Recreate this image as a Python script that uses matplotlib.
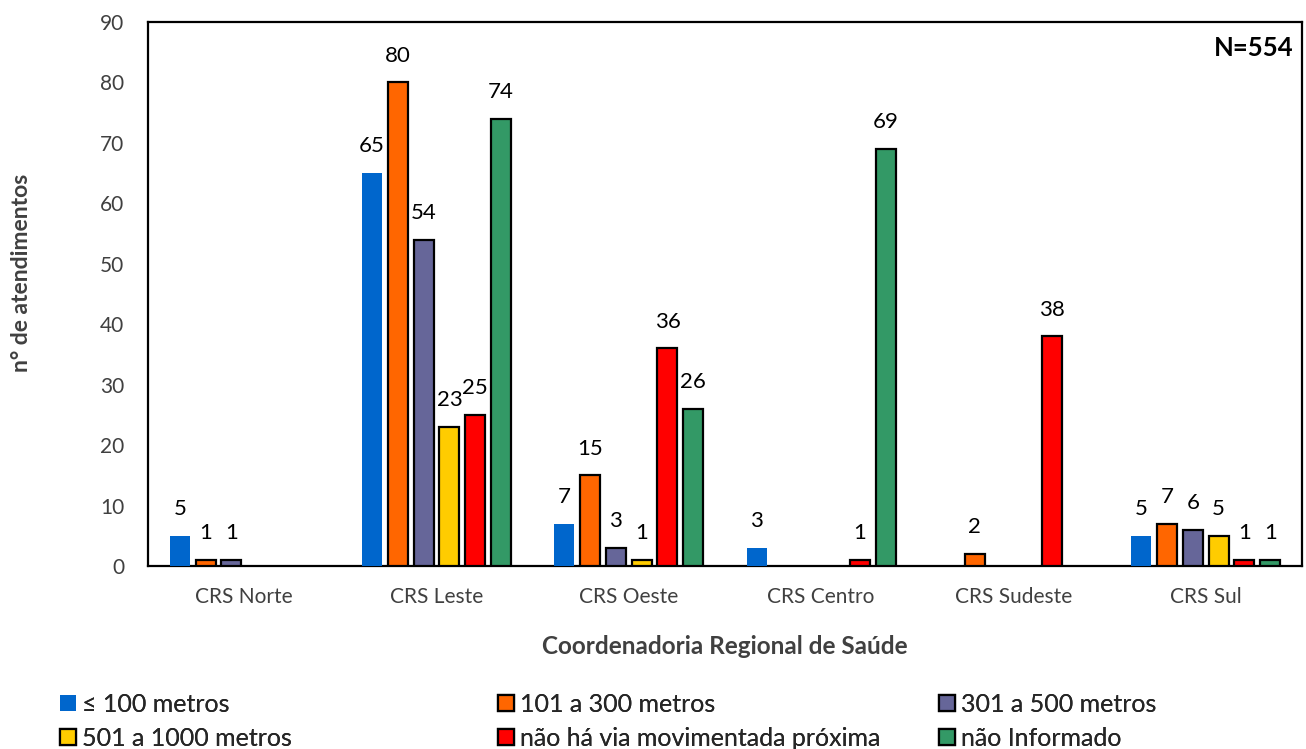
import numpy as np
import matplotlib
matplotlib.use("Agg")
import matplotlib.pyplot as plt
from matplotlib.patches import Patch

plt.rcParams['font.family'] = ['Lato', 'DejaVu Sans']

regions = ["CRS Norte", "CRS Leste", "CRS Oeste", "CRS Centro", "CRS Sudeste", "CRS Sul"]
series_names = ["≤ 100 metros", "101 a 300 metros", "301 a 500 metros",
                "501 a 1000 metros", "não há via movimentada próxima", "não Informado"]
ate_100 = [5, 65, 7, 3, 0, 5]
de_101_300 = [1, 80, 15, 0, 2, 7]
de_301_500 = [1, 54, 3, 0, 0, 6]
de_501_1000 = [0, 23, 1, 0, 0, 5]
sem_via = [0, 25, 36, 1, 38, 1]
nao_informado = [0, 74, 26, 69, 0, 1]
series = [ate_100, de_101_300, de_301_500, de_501_1000, sem_via, nao_informado]
colors = ["#0066CC", "#FF6600", "#666699", "#FFCC00", "#FF0000", "#339966"]
edges = [None, "black", "black", "black", "black", "black"]
total_label = "N=554"

fig = plt.figure(figsize=(13.06, 7.49), dpi=100)
ax = fig.add_axes([148/1306, 1 - 566/749, (1302-148)/1306, (566-22)/749])

x = np.arange(len(regions))
step = 0.134
width = 0.104
for i, (vals, col, ec) in enumerate(zip(series, colors, edges)):
    offs = (i - 2.5) * step
    for xi, v in zip(x, vals):
        if v == 0:
            continue
        if ec is None:
            ax.bar(xi + offs, v, width, color=col, linewidth=0, zorder=3)
        else:
            ax.bar(xi + offs, v, width, color=col, edgecolor=ec, linewidth=1.6, zorder=3)
        ax.annotate(str(v), (xi + offs, v), xytext=(0, 12), textcoords="offset points",
                    ha="center", va="bottom", fontsize=16, color="black")

ax.set_xlim(-0.5, len(regions) - 0.5)
ax.set_ylim(0, 90)
ax.set_yticks(range(0, 91, 10))
ax.set_xticks(x)
ax.set_xticklabels(regions, fontsize=15, color="#404040")
ax.tick_params(axis="y", labelsize=15, colors="#404040", length=0, pad=17)
ax.tick_params(axis="x", length=0, pad=15)
for s in ax.spines.values():
    s.set_linewidth(1.6)
    s.set_color("black")

ax.set_xlabel("Coordenadoria Regional de Saúde", fontsize=17.5, fontweight="bold",
              color="#404040", labelpad=20)
fig.text(22/1306, 1 - 273/749, "n° de atendimentos", rotation=90, fontsize=16.5,
         fontweight="bold", color="#404040", ha="center", va="center")

ax.text(0.993, 0.952, total_label, transform=ax.transAxes, ha="right", va="center",
        fontsize=18.5, fontweight="bold")

handles = [Patch(facecolor=c, edgecolor=(e if e else c), linewidth=(1.6 if e else 0))
           for c, e in zip(colors, edges)]
# three legend columns, two entries each
col_x = [60, 498, 939]
for c, x0 in enumerate(col_x):
    idx = [c, c + 3]
    leg = fig.legend([handles[k] for k in idx], [series_names[k] for k in idx],
                     loc="upper left", bbox_to_anchor=(x0/1306, 1 - 693/749),
                     frameon=False, fontsize=18, handlelength=0.62, handleheight=0.62,
                     handletextpad=0.25, labelspacing=0.42, borderaxespad=0,
                     borderpad=0)
    for t in leg.get_texts():
        t.set_color("#262626")
    fig.add_artist(leg)

fig.savefig("out.png", dpi=100)
